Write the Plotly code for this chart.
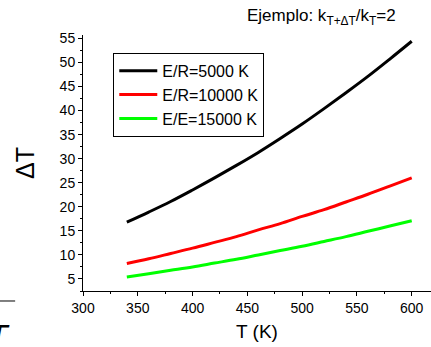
import plotly.graph_objects as go

T = [340, 360, 380, 400, 420, 440, 460, 480, 500, 520, 540, 560, 580, 600]
dT_5000 = [16.8, 18.9, 21.1, 23.5, 26.0, 28.6, 31.3, 34.2, 37.2, 40.4, 43.7, 47.1, 50.7, 54.4]
dT_10000 = [8.2, 9.2, 10.3, 11.4, 12.6, 13.8, 15.2, 16.5, 18.0, 19.4, 21.0, 22.6, 24.3, 26.0]
dT_15000 = [5.4, 6.1, 6.8, 7.5, 8.3, 9.1, 10.0, 10.9, 11.8, 12.8, 13.8, 14.9, 16.0, 17.1]
names = ["E/R=5000 K", "E/R=10000 K", "E/E=15000 K"]
colors = ["#000000", "#ff0000", "#00ff00"]
x_ticks = [300, 350, 400, 450, 500, 550, 600]
y_ticks = [5, 10, 15, 20, 25, 30, 35, 40, 45, 50, 55]

FONT = "Arial, Liberation Sans, sans-serif"

fig = go.Figure()
for ys, n, c in zip([dT_5000, dT_10000, dT_15000], names, colors):
    fig.add_trace(go.Scatter(x=T, y=ys, mode="lines", name=n,
                             line=dict(color=c, width=3, shape="spline")))

axis_common = dict(
    showline=True, linecolor="black", linewidth=1, showgrid=False, zeroline=False,
    ticks="outside", ticklen=4, tickwidth=1, tickcolor="black",
    tickfont=dict(family=FONT, size=14, color="black"),
)
fig.update_xaxes(**axis_common, range=[300, 617.6], tickvals=x_ticks,
                 minor=dict(dtick=25, ticks="outside", ticklen=2, tickcolor="black"),
                 title=dict(text="T (K)", font=dict(family=FONT, size=19, color="black"), standoff=9))
fig.update_yaxes(**axis_common, range=[2.5, 55.7], tickvals=y_ticks,
                 minor=dict(dtick=2.5, ticks="outside", ticklen=2, tickcolor="black"),
                 title=dict(text="ΔT", font=dict(family=FONT, size=25, color="black"), standoff=17))

fig.add_annotation(text="Ejemplo: k<sub>T+ΔT</sub>/k<sub>T</sub>=2", xref="paper", yref="paper",
                   x=0.466, y=1.072, xanchor="left", yanchor="middle", showarrow=False,
                   font=dict(family=FONT, size=17, color="black"))
# fragments at the left edge from neighbouring content
fig.add_shape(type="line", xref="paper", yref="paper", x0=-0.24, x1=-0.195,
              y0=-0.039, y1=-0.039, line=dict(color="#555555", width=1.5))
fig.add_annotation(text="<i>T</i>", xref="paper", yref="paper", x=-0.204, y=-0.175,
                   xanchor="right", yanchor="middle", showarrow=False,
                   font=dict(family=FONT, size=32, color="black"))

fig.update_layout(
    width=431, height=347,
    margin=dict(l=83, r=0, t=35, b=56),
    plot_bgcolor="white", paper_bgcolor="white",
    showlegend=True,
    legend=dict(x=0.087, y=0.93, xanchor="left", yanchor="top",
                bordercolor="black", borderwidth=1, bgcolor="white",
                font=dict(family=FONT, size=16, color="black"),
                tracegroupgap=0, itemwidth=38),
)
fig.write_html("out.html", config={"displayModeBar": False},
               post_script="document.body.style.margin='0px';")
